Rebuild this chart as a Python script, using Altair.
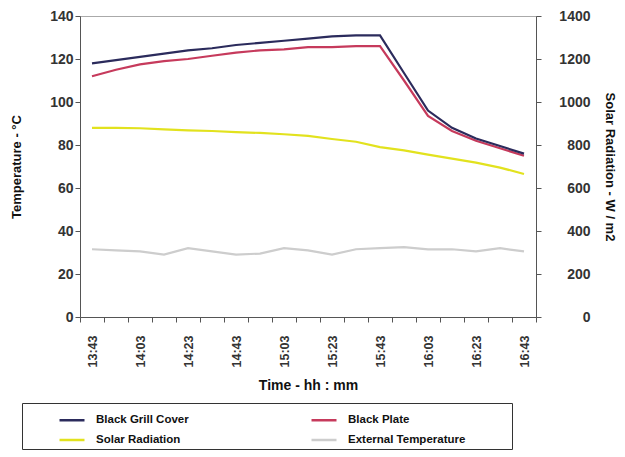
import altair as alt
import pandas as pd

times = ["13:43", "13:53", "14:03", "14:13", "14:23", "14:33", "14:43", "14:53",
         "15:03", "15:13", "15:23", "15:33", "15:43", "15:53", "16:03", "16:13",
         "16:23", "16:33", "16:43"]
label_times = ["13:43", "14:03", "14:23", "14:43", "15:03", "15:23", "15:43",
               "16:03", "16:23", "16:43"]

grill = [118, 119.5, 121, 122.5, 124, 125, 126.5, 127.5, 128.5, 129.5, 130.5,
         131, 131, 113.5, 96, 88, 83, 79.5, 76]
plate = [112, 115, 117.5, 119, 120, 121.5, 123, 124, 124.5, 125.5, 125.5,
         126, 126, 110, 93.5, 86.5, 82, 78.5, 75]
solar = [880, 880, 878, 873, 868, 865, 860, 856, 850, 842, 828, 815, 790,
         775, 755, 737, 718, 695, 665]
external = [31.5, 31, 30.5, 29, 32, 30.5, 29, 29.5, 32, 31, 29, 31.5, 32,
            32.5, 31.5, 31.5, 30.5, 32, 30.5]

series = ["Black Grill Cover", "Black Plate", "Solar Radiation", "External Temperature"]
colors = ["#2b2b5c", "#c63a5c", "#e2e21e", "#cdcdcd"]

temp_df = pd.DataFrame({
    "time": times * 3,
    "value": external + plate + grill,
    "series": ["External Temperature"] * len(times) + ["Black Plate"] * len(times)
              + ["Black Grill Cover"] * len(times),
})
solar_df = pd.DataFrame({"time": times, "value": solar,
                         "series": ["Solar Radiation"] * len(times)})

FONT = "Liberation Sans"
label_list = ",".join("'%s'" % t for t in label_times)

x = alt.X(
    "time:O", sort=times,
    scale=alt.Scale(type="band", paddingInner=0, paddingOuter=0),
    bandPosition=0.5,
    axis=alt.Axis(
        title="Time - hh : mm", labelAngle=270, tickBand="extent",
        labelExpr="indexof([%s], datum.value) >= 0 ? datum.value : ''" % label_list,
        labelFont=FONT, labelFontSize=12.5, labelFontWeight="bold", labelColor="#333",
        titleFont=FONT, titleFontSize=14, titleFontWeight="bold", titleColor="#111",
        titlePadding=12, labelPadding=13, domainColor="#555", tickColor="#555",
        tickSize=5, labelOverlap=False,
    ),
)

color = alt.Color(
    "series:N", sort=series,
    scale=alt.Scale(domain=series, range=colors),
    legend=alt.Legend(
        title="\u2002", titleOrient="right", titlePadding=44,
        orient="none", legendX=-58, legendY=387, columns=2, direction="horizontal",
        symbolType="stroke", symbolStrokeWidth=2.5, symbolSize=625,
        symbolOffset=33, labelOffset=10,
        labelFont=FONT, labelFontSize=11.5, labelFontWeight="bold", labelColor="#111",
        strokeColor="#333", fillColor="white", padding=3,
        columnPadding=88, rowPadding=-7,
    ),
)

temp = alt.Chart(temp_df).mark_line(strokeWidth=2.2).encode(
    x=x,
    y=alt.Y("value:Q", scale=alt.Scale(domain=[0, 140]),
            axis=alt.Axis(title="Temperature - °C", values=list(range(0, 141, 20)),
                          grid=False, labelFont=FONT, labelFontSize=14,
                          labelFontWeight="bold", labelColor="#333",
                          titleFont=FONT, titleFontSize=13, titleFontWeight="bold",
                          titleColor="#111", titlePadding=26,
                          domainColor="#555", tickColor="#555", tickSize=5)),
    color=color,
)

sol = alt.Chart(solar_df).mark_line(strokeWidth=2.2).encode(
    x=x,
    y=alt.Y("value:Q", scale=alt.Scale(domain=[0, 1400]),
            axis=alt.Axis(title="Solar Radiation - W / m2", orient="right",
                          values=list(range(0, 1401, 200)), format="d",
                          grid=False, labelFont=FONT, labelFontSize=14,
                          labelFontWeight="bold", labelColor="#333",
                          labelAlign="right", labelPadding=49,
                          titleFont=FONT, titleFontSize=13, titleFontWeight="bold",
                          titleColor="#111", titlePadding=12,
                          domainColor="#555", tickColor="#555", tickSize=5)),
    color=color,
)

chart = alt.layer(sol, temp).resolve_scale(y="independent").properties(
    width=456, height=301,
    autosize=alt.AutoSizeParams(type="none"),
    padding={"left": 72, "top": 8, "right": 81, "bottom": 140},
).configure_view(stroke="#aaa")

chart.save("out.html", embed_options={"renderer": "svg", "actions": False})
